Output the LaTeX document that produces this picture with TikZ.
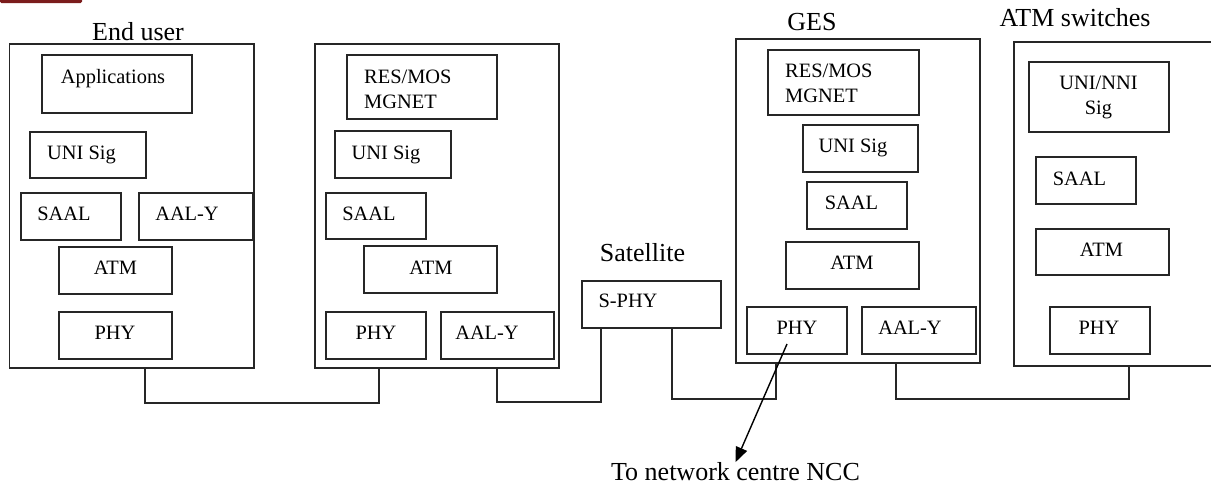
\documentclass[tikz,border=0pt]{standalone}
\usepackage{fontspec}
\setmainfont{Liberation Serif}
\usetikzlibrary{arrows.meta}

\tikzset{
  box/.style={draw=black!85, line width=1.6pt, rectangle, inner sep=0pt, outer sep=0pt},
  lbl/.style={inner sep=0pt, font=\fontsize{20.4}{25.3}\selectfont, text height=13.4pt, text depth=0pt},
  lbltwo/.style={inner sep=0pt, font=\fontsize{20.4}{25.3}\selectfont},
  ttl/.style={inner sep=0pt, font=\fontsize{26}{30}\selectfont, text height=17.2pt, text depth=0pt},
  wire/.style={draw=black!85, line width=1.6pt},
}

% rectangle given by its corners (x1,y1) and (x2,y2)
\newcommand\layerbox[5]{%
  \node[box, minimum width={(#4)-(#2)}, minimum height={(#5)-(#3)}]
    (#1) at ({((#2)+(#4))/2},{((#3)+(#5))/2}) {};}

\begin{document}
\begin{tikzpicture}[x=1pt, y=-1pt]
\clip (0,0) rectangle (1211,488);
\useasboundingbox (0,0) rectangle (1211,488);

% thin bar at the top left corner
\fill[fill={rgb,255:red,123;green,28;blue,28}, rounded corners=1.5pt] (0,-2) rectangle (82,3);

% ---------- End user ----------
\node[ttl] (t-user) at (138,32) {End user};
\layerbox{user}{9.5}{44}{254}{368}
\layerbox{app}{42}{55}{192}{113}
\node[lbl] (app-t) at (113,76.5) {Applications};
\layerbox{uni1}{30}{132}{146}{178}
\node[lbl] (uni1-t) at (81.5,152.4) {UNI Sig};
\layerbox{saal1}{21}{193}{121}{240}
\node[lbl] (saal1-t) at (64,213.3) {SAAL};
\layerbox{aaly1}{139}{193}{253}{240}
\node[lbl] (aaly1-t) at (187,213.3) {AAL-Y};
\layerbox{atm1}{59}{247}{172}{294}
\node[lbl] (atm1-t) at (115.5,267.5) {ATM};
\layerbox{phy1}{59}{312}{172}{359}
\node[lbl] (phy1-t) at (115,333) {PHY};

% ---------- second terminal ----------
\layerbox{term}{315}{44}{559}{368}
\layerbox{res2}{347}{55}{497}{119}
\node[lbltwo, anchor=north west, align=left] (res2-t) at (364,69.9) {RES/MOS\\MGNET};
\layerbox{uni2}{335}{131}{451}{178}
\node[lbl] (uni2-t) at (386,153) {UNI Sig};
\layerbox{saal2}{326}{193}{426}{239}
\node[lbl] (saal2-t) at (369,214) {SAAL};
\layerbox{atm2}{364}{246}{497}{293}
\node[lbl] (atm2-t) at (431,267.5) {ATM};
\layerbox{phy2}{326}{312}{426}{359}
\node[lbl] (phy2-t) at (376,333) {PHY};
\layerbox{aaly2}{441}{312}{554}{359}
\node[lbl] (aaly2-t) at (487,333) {AAL-Y};

% ---------- Satellite ----------
\node[ttl] (t-sat) at (642.5,253) {Satellite};
\layerbox{sphy}{582}{281}{721}{328}
\node[lbl] (sphy-t) at (628,301) {S-PHY};

% ---------- GES ----------
\node[ttl] (t-ges) at (812,22) {GES};
\layerbox{ges}{736}{39}{980}{363}
\layerbox{res3}{768}{50}{919}{115}
\node[lbltwo, anchor=north west, align=left] (res3-t) at (785,63.8) {RES/MOS\\MGNET};
\layerbox{uni3}{803}{125}{918}{172}
\node[lbl] (uni3-t) at (853,146) {UNI Sig};
\layerbox{saal3}{807}{182}{907}{229}
\node[lbl] (saal3-t) at (851.5,202.3) {SAAL};
\layerbox{atm3}{786}{242}{919}{289}
\node[lbl] (atm3-t) at (852,263) {ATM};
\layerbox{phy3}{747}{307}{847}{354}
\node[lbl] (phy3-t) at (797,328) {PHY};
\layerbox{aaly3}{862}{307}{976}{354}
\node[lbl] (aaly3-t) at (910,328) {AAL-Y};

% ---------- ATM switches ----------
\node[ttl] (t-sw) at (1075,18.3) {ATM switches};
\layerbox{sw}{1014}{42}{1230}{366}
\layerbox{uninni}{1029}{62}{1169}{132}
\node[lbltwo, anchor=north, align=center] (uninni-t) at (1098.5,75.4) {UNI/NNI\\Sig};
\layerbox{saal4}{1036}{157}{1136}{204}
\node[lbl] (saal4-t) at (1079.5,178.8) {SAAL};
\layerbox{atm4}{1036}{229}{1169}{275}
\node[lbl] (atm4-t) at (1101.5,249.7) {ATM};
\layerbox{phy4}{1050}{307}{1150}{354}
\node[lbl] (phy4-t) at (1099,328) {PHY};

% ---------- links ----------
\draw[wire] ([xshift=13.25pt]user.south) -- ++(0,35) -| ([xshift=-58pt]term.south);
\draw[wire] ([xshift=60pt]term.south) -- ++(0,34) -| ([xshift=-50.5pt]sphy.south);
\draw[wire] ([xshift=20.5pt]sphy.south) -- ++(0,71) -| ([xshift=-82pt]ges.south);
\draw[wire] ([xshift=38pt]ges.south) -- ++(0,36) -| ([xshift=7pt]sw.south);

% ---------- to the NCC ----------
\node[ttl] (ncc) at (735.5,472) {To network centre NCC};
\coordinate (ncc-from) at ([shift={(-10pt,-13.5pt)}]phy3.center);
\draw[line width=1.4pt, -{Triangle[length=15pt,width=12pt]}] (ncc-from) -- ([yshift=1pt]ncc.north);
\end{tikzpicture}
\end{document}
